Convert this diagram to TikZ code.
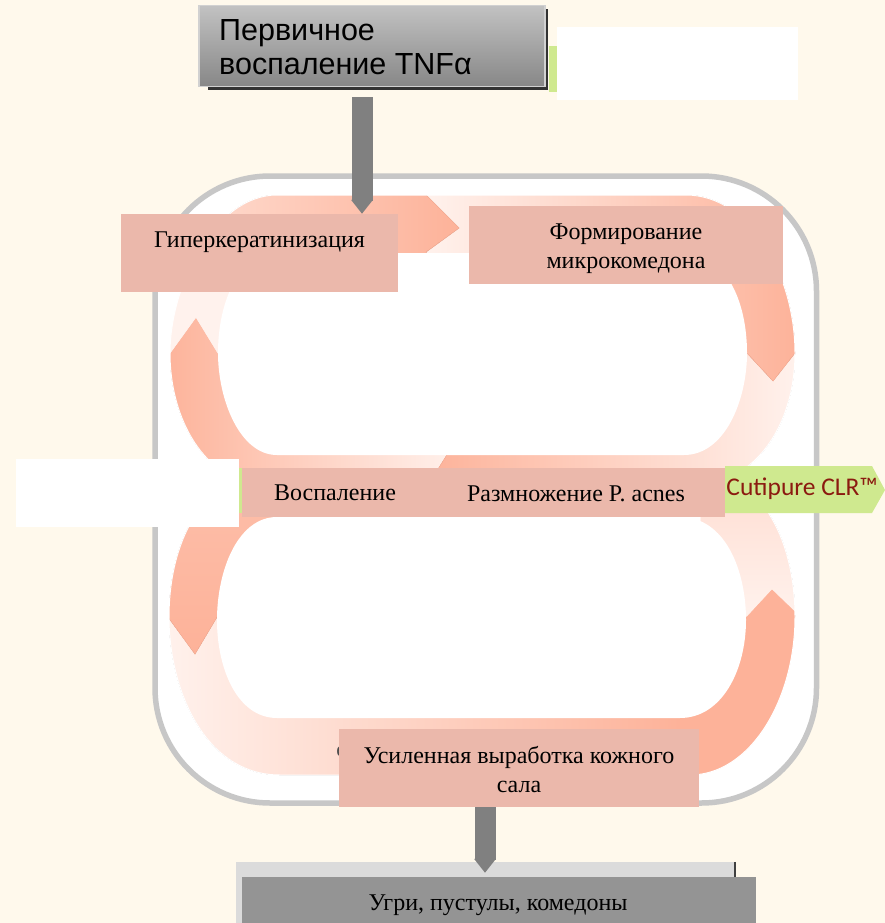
\documentclass[tikz,border=0pt]{standalone}
\usepackage{fontspec}
\setmainfont{Liberation Serif}
\newfontfamily\arialfont{Liberation Sans}
\newfontfamily\calibrifont{Carlito}
\usetikzlibrary{arrows.meta}
\definecolor{paper}{HTML}{FFF9EC}
\definecolor{salmon}{HTML}{FDB299}
\definecolor{palesalmon}{HTML}{FFF2ED}
\definecolor{stagefill}{HTML}{EBB8AB}
\definecolor{tagfill}{HTML}{CFE98F}
\definecolor{tagtext}{HTML}{8B1A10}
\newcommand{\upperband}{(277,195) -- (686,195) .. controls (750,195) and (795,275) .. (795,353) .. controls (795,420) and (760,480) .. (700,485) -- (260,485) .. controls (205,480) and (170,420) .. (170,353) .. controls (170,285) and (215,195) .. (277,195) -- cycle}
\newcommand{\lowerband}{(270,471) -- (700,471) .. controls (765,475) and (795,545) .. (795,617) .. controls (795,700) and (750,775) .. (690,775) -- (280,775) .. controls (205,775) and (169,690) .. (169,617) .. controls (169,545) and (200,475) .. (270,471) -- cycle}
\tikzset{
	stagebox/.style={fill=stagefill, inner sep=0pt, align=center, font=\fontsize{24}{29}\selectfont},
	stagetext/.style={inner sep=0pt, font=\fontsize{24}{29}\selectfont},
	blankbox/.style={fill=white, inner sep=0pt},
	headfill/.style={draw=salmon, line width=.6pt},
	palefill/.style={draw=palesalmon, line width=.6pt},
	feedarrow/.style={line width=21pt, color=black!50, -{Triangle[width=21pt, length=14pt]}},
}
\begin{document}
\begin{tikzpicture}[x=1pt, y=-1pt]
	\useasboundingbox (0,0) rectangle (885,923);
	\fill[paper] (0,0) rectangle (885,923);
	\draw[line width=5.5pt, color=black!22, fill=white, rounded corners=115pt] (155,176) rectangle (816.5,803);
	\begin{scope}
		\clip \upperband;
		\fill[palefill, left color=salmon, right color=palesalmon] (160,353) -- (170,353) -- (196,317) -- (218,353) -- (460,353) -- (460,500) -- (160,500) -- cycle;
		\fill[headfill, left color=salmon, right color=palesalmon] (425,490) -- (450,450) -- (700,353) -- (800,353) -- (800,490) -- cycle;
		\fill[headfill, left color=palesalmon, right color=salmon] (426,190) -- (800,190) -- (800,353) -- (795,353) -- (773,381) -- (747,353) -- (426,353) -- cycle;
		\fill[headfill, left color=salmon!30!palesalmon, middle color=salmon!70!palesalmon, right color=salmon] (170,190) -- (426,190) -- (426,195) -- (459,228) -- (426,252) -- (426,353) -- (240,353) -- (240,285) -- (170,285) -- cycle;
		\fill[palefill, palesalmon] (165,285) -- (240,285) -- (240,353) -- (218,353) -- (196,317) -- (170,353) -- (165,353) -- cycle;
	\end{scope}
	\begin{scope}
		\clip \lowerband;
		\fill[palefill, top color=palesalmon!70!salmon, bottom color=palesalmon] (700,490) rectangle (800,617);
		\fill[left color=palesalmon, right color=salmon] (160,617) -- (680,617) -- (680,780) -- (160,780) -- cycle;
		\fill[headfill, salmon] (680,617) -- (747,617) -- (772,590) -- (800,617) -- (800,780) -- (680,780) -- cycle;
		\fill[headfill, top color=salmon!85!white, bottom color=salmon] (160,490) -- (300,490) -- (300,617) -- (217,617) -- (195,654) -- (168,617) -- (160,617) -- cycle;
	\end{scope}
	\draw[white, line width=1pt] \upperband;
	\draw[white, line width=1pt] \lowerband;
	\fill[white] (277,253) -- (684,253) .. controls (725,253) and (747,300) .. (747,353) .. controls (747,400) and (725,455) .. (684,455) -- (277,455) .. controls (240,455) and (218,400) .. (218,353) .. controls (218,300) and (240,253) .. (277,253);
	\fill[white] (277,517) -- (680,517) .. controls (725,517) and (746,570) .. (746,620) .. controls (746,670) and (722,718) .. (680,718) -- (277,718) .. controls (238,718) and (217,670) .. (217,620) .. controls (217,570) and (238,517) .. (277,517);
	\node[font=\fontsize{21}{25}\selectfont, inner sep=0pt, color=black!70] (hiddenletter) at (341,752) {е};
	\fill[tagfill] (549,46) rectangle (557,92);
	\fill[black!80] (208,9) rectangle (548,90);
	\node[top color=black!24, bottom color=black!47, draw=black!18, line width=1.5pt, inner sep=0pt, minimum width=346pt, minimum height=81pt] (primary) at (372,46) {};
	\node[anchor=west, inner sep=0pt, align=left, font=\arialfont\fontsize{30.5}{34}\selectfont] (primarytext) at (219,47) {Первичное\\воспаление TNFα};
	\node[blankbox, minimum width=241pt, minimum height=73pt] (topblank) at (677.5,63.5) {};
	\node[stagebox, minimum width=277pt, minimum height=78pt] (hyper) at (259.5,253) {};
	\node[stagebox, minimum width=314pt, minimum height=78pt] (comedo) at (626,245) {};
	\node[stagetext, align=center] (comedotext) at (626,249) {Формирование\\микрокомедона};
	\node[stagetext] (hypertext) at (259.5,242) {Гиперкератинизация};
	\fill[tagfill] (239,468) rectangle (243,513);
	\fill[tagfill] (725,466) -- (872,466) -- (885,490) -- (872,513) -- (725,513) -- cycle;
	\node[inner sep=0pt, color=tagtext, font=\calibrifont\fontsize{25.5}{30}\selectfont] (cutipure) at (802,489) {Cutipure CLR™};
	\node[blankbox, minimum width=223pt, minimum height=68pt] (leftblank) at (127.5,493) {};
	\node[stagebox, minimum width=483pt, minimum height=49pt] (middle) at (483.5,492.5) {};
	\node[stagetext] (inflammation) at (335,493) {Воспаление};
	\node[stagetext] (bacteria) at (576,494) {Размножение P. acnes};
	\node[stagebox, minimum width=360pt, minimum height=78pt] (sebum) at (519,768) {};
	\node[stagetext, align=center] (sebumtext) at (519,770) {Усиленная выработка кожного\\сала};
	\node[fill=black!14, inner sep=0pt, minimum width=499pt, minimum height=61pt] (lesionsback) at (485.5,892.5) {};
	\draw[line width=1.5pt, color=black!75] (lesionsback.north east) -- ++(0,15);
	\draw[feedarrow] ([xshift=-10pt, yshift=-10pt]primary.south) -- ([xshift=-10pt]primary.south |- hyper.north);
	\draw[feedarrow] ([xshift=-34pt]sebum.south) -- ([xshift=-34pt, yshift=-11pt]sebum.south |- lesionsback.north);
	\node[fill=black!42, inner sep=0pt, minimum width=514pt, minimum height=46pt] (lesions) at (499,900) {};
	\node[stagetext] (lesionstext) at (498,905) {Угри, пустулы, комедоны};
\end{tikzpicture}
\end{document}
